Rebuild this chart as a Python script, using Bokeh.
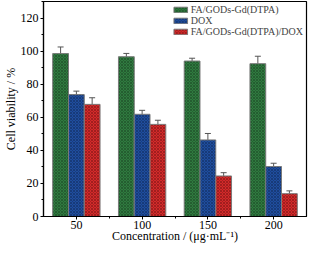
from bokeh.plotting import figure
from bokeh.models import ColumnDataSource, Whisker, FixedTicker, Legend, LegendItem
from bokeh.embed import file_html
from bokeh.resources import INLINE

categories = ["50", "100", "150", "200"]
series_names = ["FA/GODs-Gd(DTPA)", "DOX", "FA/GODs-Gd(DTPA)/DOX"]
green_vals = [98.5, 96.6, 94.0, 92.4]
green_err = [4.0, 2.0, 1.7, 4.5]
blue_vals = [73.7, 61.8, 46.3, 30.2]
blue_err = [2.1, 2.4, 3.9, 2.0]
red_vals = [67.8, 55.7, 24.5, 13.8]
red_err = [4.0, 2.5, 2.0, 1.7]
x_title = "Concentration / (\u03bcg\u00b7mL\u207b\u00b9)"
y_title = "Cell viability / %"

colors = ["#2f7a3f", "#1f4d9e", "#d32a2a"]
hatch_colors = ["#173d20", "#0f2650", "#6a1010"]
offsets = [-0.24, 0.0, 0.24]
bar_w = 0.24

FONT = "Liberation Serif"

p = figure(width=310, height=245, x_range=(0.5, 4.5), y_range=(0, 130),
           output_backend="svg", toolbar_location=None,
           min_border_left=30, min_border_right=4, min_border_top=1, min_border_bottom=20)

p.xgrid.visible = False
p.ygrid.visible = False
p.outline_line_color = "black"
p.outline_line_width = 1.2

xs = list(range(1, len(categories) + 1))
renderers = []
for vals, errs, col, hc, off in zip([green_vals, blue_vals, red_vals],
                                    [green_err, blue_err, red_err],
                                    colors, hatch_colors, offsets):
    x = [xi + off for xi in xs]
    src = ColumnDataSource(dict(x=x, top=vals, upper=[v + e for v, e in zip(vals, errs)],
                                lower=[v - e for v, e in zip(vals, errs)]))
    r = p.vbar(x="x", top="top", width=bar_w, source=src, fill_color=col,
               line_color="#7a7a7a", line_width=1,
               hatch_pattern="x", hatch_color=hc, hatch_scale=3, hatch_weight=0.6, hatch_alpha=0.8)
    renderers.append(r)
    w = Whisker(source=src, base="x", upper="upper", lower="lower",
                line_color="#555555", line_width=1)
    w.upper_head.size = 6
    w.lower_head.size = 6
    w.upper_head.line_color = "#555555"
    w.lower_head.line_color = "#555555"
    p.add_layout(w)

p.xaxis.ticker = FixedTicker(ticks=xs, minor_ticks=[1.5, 2.5, 3.5])
p.xaxis.major_label_overrides = {xi: c for xi, c in zip(xs, categories)}
p.yaxis.ticker = FixedTicker(ticks=[0, 20, 40, 60, 80, 100, 120],
                             minor_ticks=[10, 30, 50, 70, 90, 110, 130])

for ax in [p.xaxis[0], p.yaxis[0]]:
    ax.axis_line_color = "black"
    ax.axis_line_width = 1.2
    ax.major_tick_line_color = "black"
    ax.minor_tick_line_color = "black"
    ax.major_tick_out = 3
    ax.major_tick_in = 0
    ax.minor_tick_out = 2
    ax.minor_tick_in = 0
    ax.major_label_text_font = FONT
    ax.major_label_text_font_size = "12px"
    ax.major_label_text_color = "black"
    ax.axis_label_text_font = FONT
    ax.axis_label_text_font_size = "12px"
    ax.axis_label_text_font_style = "normal"
    ax.axis_label_text_color = "black"

p.xaxis.axis_label = x_title
p.yaxis.axis_label = y_title
p.xaxis.major_label_standoff = 1
p.xaxis.axis_label_standoff = -3
p.yaxis.major_label_standoff = 2
p.yaxis.axis_label_standoff = 0

legend = Legend(items=[LegendItem(label=n, renderers=[r]) for n, r in zip(series_names, renderers)],
                location="top_right")
legend.label_text_font = FONT
legend.label_text_font_size = "10px"
legend.label_height = 7
legend.glyph_height = 7
legend.glyph_width = 17
legend.spacing = 0
legend.padding = 1
legend.margin = 3
legend.label_standoff = 2
legend.label_text_line_height = 0.7
legend.border_line_color = None
legend.background_fill_alpha = 0
p.add_layout(legend)

open("out.html", "w").write(file_html(p, INLINE))
